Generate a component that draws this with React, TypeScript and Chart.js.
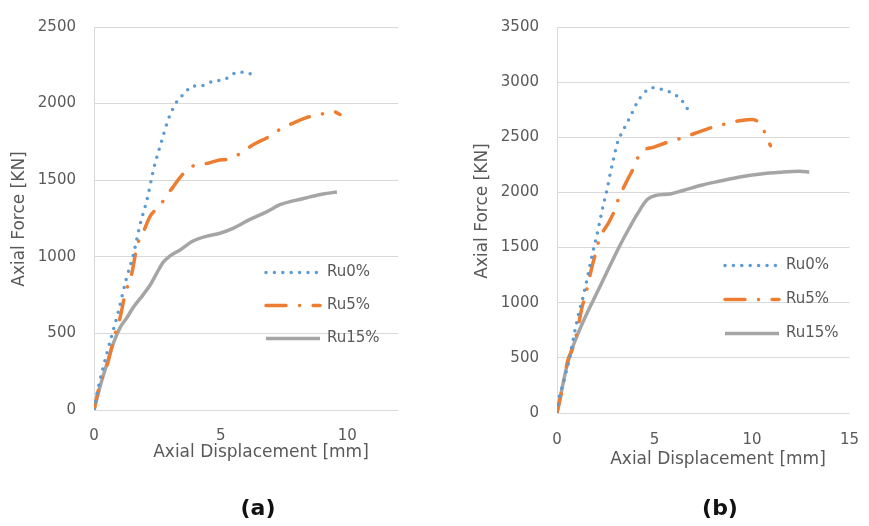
import React, { useEffect, useRef } from 'react';
import { Chart, registerables } from 'chart.js';
Chart.register(...registerables);

// ---------- shared labels ----------
const seriesLabels = ['Ru0%', 'Ru5%', 'Ru15%'];
const seriesColors = ['#5B9BD5', '#ED7D31', '#A5A5A5'];
const xTitle = 'Axial Displacement [mm]';
const yTitle = 'Axial Force [KN]';
const captions = ['(a)', '(b)'];

// ---------- panel (a) ----------
const aXMax = 12;
const aYMax = 2500;
const aXStep = 5;
const aYStep = 500;

const aRu0X = [0, 0.12, 0.51, 0.95, 1.26, 1.54, 1.82, 2.09, 2.37, 2.65, 2.92, 3.2, 3.4, 3.63, 3.87, 4.07, 4.38, 4.7, 5.05, 5.33, 5.65, 5.96, 6.28];
const aRu0Y = [0, 109, 372, 635, 846, 1006, 1212, 1372, 1583, 1744, 1891, 1994, 2038, 2077, 2115, 2115, 2122, 2147, 2154, 2173, 2205, 2205, 2186];

const aRu5X = [0, 0.24, 0.5, 0.83, 1.03, 1.22, 1.5, 1.7, 1.93, 2.21, 2.6, 2.88, 3.12, 3.4, 3.71, 4.07, 4.46, 4.86, 5.37, 5.76, 6.28, 6.95, 7.42, 7.86, 8.41, 8.92, 9.44, 9.71];
const aRu5Y = [0, 173, 282, 494, 603, 750, 897, 1071, 1154, 1263, 1333, 1404, 1455, 1519, 1571, 1603, 1609, 1628, 1641, 1673, 1731, 1788, 1840, 1872, 1910, 1929, 1949, 1929];

const aRu15X = [0, 0.24, 0.51, 0.75, 1.03, 1.3, 1.54, 1.93, 2.21, 2.49, 2.72, 3.0, 3.4, 3.91, 4.46, 4.97, 5.49, 6.16, 6.83, 7.34, 7.86, 8.53, 9.04, 9.59];
const aRu15Y = [0, 154, 301, 429, 538, 603, 667, 750, 814, 897, 962, 1006, 1045, 1103, 1135, 1154, 1186, 1244, 1295, 1340, 1365, 1391, 1410, 1423];

// ---------- panel (b) ----------
const bXMax = 15;
const bYMax = 3500;
const bXStep = 5;
const bYStep = 500;

const bRu0X = [0, 0.06, 0.23, 0.45, 0.65, 0.81, 0.98, 1.15, 1.31, 1.48, 1.64, 1.81, 2.01, 2.19, 2.36, 2.56, 2.73, 2.9, 3.1, 3.27, 3.47, 3.67, 3.85, 4.02, 4.25, 4.5, 4.88, 5.28, 5.7, 6.09, 6.38, 6.63, 6.81];
const bRu0Y = [0, 96, 213, 359, 499, 650, 796, 928, 1033, 1164, 1295, 1438, 1584, 1733, 1875, 2021, 2170, 2304, 2450, 2523, 2590, 2657, 2721, 2785, 2855, 2908, 2950, 2938, 2918, 2883, 2837, 2778, 2708];

const bRu5X = [0, 0.3, 0.55, 0.78, 1.05, 1.28, 1.46, 1.58, 1.83, 2.0, 2.16, 2.69, 2.94, 3.14, 3.64, 3.89, 4.1, 4.39, 4.97, 5.55, 6.13, 7.21, 7.76, 8.37, 9.45, 10.03, 10.45, 10.95];
const bRu5Y = [0, 245, 475, 577, 752, 956, 1065, 1161, 1350, 1461, 1569, 1739, 1831, 1934, 2124, 2208, 2299, 2375, 2410, 2448, 2478, 2544, 2579, 2609, 2653, 2662, 2612, 2424];

const bRu15X = [0, 0.25, 0.5, 0.75, 1.1, 1.45, 1.8, 2.5, 3.2, 3.7, 4.14, 4.63, 5.05, 5.8, 6.46, 7.46, 8.37, 9.45, 10.45, 11.44, 12.44, 12.94];
const bRu15Y = [0, 215, 420, 570, 730, 870, 1000, 1255, 1510, 1675, 1810, 1935, 1972, 1986, 2018, 2068, 2103, 2143, 2168, 2183, 2192, 2183];

// ---------- styles ----------
const lineWidths = [3.5, 3.5, 3.5];
const lineDashes: number[][] = [[0, 8.4], [20, 13.5, 0.1, 13.5], []];
const lineCaps = ['round', 'round', 'butt'];
const FONT = '"DejaVu Sans", "Noto Sans", sans-serif';
const TEXT_COLOR = '#595959';
const GRID_COLOR = '#D9D9D9';

function makeDatasets(xs: number[][], ys: number[][]) {
  return xs.map((x, i) => ({
    label: seriesLabels[i],
    data: x.map((v, j) => ({ x: v, y: ys[i][j] })),
    borderColor: seriesColors[i],
    backgroundColor: seriesColors[i],
    borderWidth: lineWidths[i],
    borderDash: lineDashes[i],
    borderCapStyle: lineCaps[i],
    borderJoinStyle: 'round',
    pointRadius: 0,
    pointHoverRadius: 0,
    showLine: true,
    fill: false,
    cubicInterpolationMode: 'monotone',
  }));
}

const overlayPlugin = {
  id: 'overlay',
  afterDatasetsDraw(chart: any, _args: any, o: any) {
    const ctx = chart.ctx as CanvasRenderingContext2D;
    ctx.save();
    ctx.fillStyle = TEXT_COLOR;
    ctx.font = `17px ${FONT}`;
    ctx.textAlign = 'center';
    ctx.textBaseline = 'alphabetic';
    ctx.fillText(o.xTitle, o.xTitleX, o.xTitleY);
    ctx.save();
    ctx.translate(o.yTitleX, o.yTitleY);
    ctx.rotate(-Math.PI / 2);
    ctx.fillText(o.yTitle, 0, 0);
    ctx.restore();
    chart.data.datasets.forEach((ds: any, i: number) => {
      const y = o.legendY + i * o.legendGap;
      ctx.save();
      ctx.strokeStyle = ds.borderColor;
      ctx.lineWidth = ds.borderWidth;
      ctx.setLineDash(ds.borderDash || []);
      ctx.lineCap = ds.borderCapStyle || 'butt';
      ctx.beginPath();
      ctx.moveTo(o.legendX, y);
      ctx.lineTo(o.legendX + o.legendLen, y);
      ctx.stroke();
      ctx.restore();
      ctx.fillStyle = TEXT_COLOR;
      ctx.font = `15px ${FONT}`;
      ctx.textAlign = 'left';
      ctx.textBaseline = 'middle';
      ctx.fillText(ds.label, o.legendX + o.legendLen + o.legendTextGap, y);
    });
    ctx.fillStyle = '#111111';
    ctx.font = `bold 22px ${FONT}`;
    ctx.textAlign = 'center';
    ctx.textBaseline = 'middle';
    ctx.fillText(o.caption, o.captionX, o.captionY);
    ctx.restore();
  },
};

function makeConfig(p: any) {
  return {
    type: 'scatter',
    data: { datasets: makeDatasets(p.xs, p.ys) },
    options: {
      responsive: false,
      animation: false,
      events: [],
      layout: { padding: { top: p.padTop, right: p.padRight, left: 0, bottom: 0 } },
      plugins: {
        legend: { display: false },
        tooltip: { enabled: false },
        overlay: p.overlay,
      },
      scales: {
        x: {
          type: 'linear',
          min: 0,
          max: p.xMax,
          grid: { display: false },
          border: { display: false },
          ticks: {
            stepSize: p.xStep,
            color: TEXT_COLOR,
            font: { family: FONT, size: 15 },
            padding: p.xTickPad,
            maxRotation: 0,
            callback: (v: any) => String(v),
          },
          afterBuildTicks: (scale: any) => {
            scale.ticks = scale.ticks.filter((t: any) => t.value % p.xStep === 0);
          },
          afterFit: (scale: any) => {
            scale.height = p.xHeight;
          },
        },
        y: {
          type: 'linear',
          min: 0,
          max: p.yMax,
          grid: { color: GRID_COLOR, lineWidth: 1, drawTicks: false },
          border: { display: true, color: GRID_COLOR, width: 1 },
          ticks: {
            stepSize: p.yStep,
            color: TEXT_COLOR,
            font: { family: FONT, size: 15 },
            padding: 18,
            callback: (v: any) => String(v),
          },
          afterFit: (scale: any) => {
            scale.width = p.yWidth;
          },
        },
      },
    },
    plugins: [overlayPlugin],
  };
}

const panelA = {
  xs: [aRu0X, aRu5X, aRu15X],
  ys: [aRu0Y, aRu5Y, aRu15Y],
  xMax: aXMax, yMax: aYMax, xStep: aXStep, yStep: aYStep,
  padTop: 16, padRight: 42, yWidth: 94, xHeight: 116, xTickPad: 9,
  overlay: {
    xTitle, yTitle, caption: captions[0],
    xTitleX: 261, xTitleY: 457,
    yTitleX: 24, yTitleY: 219,
    legendX: 266, legendY: 272.5, legendGap: 33, legendLen: 54, legendTextGap: 7,
    captionX: 258, captionY: 509,
  },
};

const panelB = {
  xs: [bRu0X, bRu5X, bRu15X],
  ys: [bRu0Y, bRu5Y, bRu15Y],
  xMax: bXMax, yMax: bYMax, xStep: bXStep, yStep: bYStep,
  padTop: 11, padRight: 11, yWidth: 117, xHeight: 113, xTickPad: 10,
  overlay: {
    xTitle, yTitle, caption: captions[1],
    xTitleX: 278, xTitleY: 464,
    yTitleX: 47, yTitleY: 211,
    legendX: 285, legendY: 265.5, legendGap: 34, legendLen: 54, legendTextGap: 7,
    captionX: 280, captionY: 509,
  },
};

function Panel({ cfg, left, width }: { cfg: any; left: number; width: number }) {
  const ref = useRef<HTMLCanvasElement | null>(null);
  useEffect(() => {
    if (!ref.current) return;
    const chart = new Chart(ref.current, makeConfig(cfg) as any);
    return () => chart.destroy();
  }, [cfg]);
  return (
    <canvas
      ref={ref}
      width={width}
      height={526}
      style={{ position: 'absolute', left, top: 0, width, height: 526 }}
    />
  );
}

export default function App() {
  return (
    <div style={{ position: 'fixed', left: 0, top: 0, width: 869, height: 526, background: '#ffffff', overflow: 'hidden' }}>
      <Panel cfg={panelA} left={0} width={440} />
      <Panel cfg={panelB} left={440} width={429} />
    </div>
  );
}
